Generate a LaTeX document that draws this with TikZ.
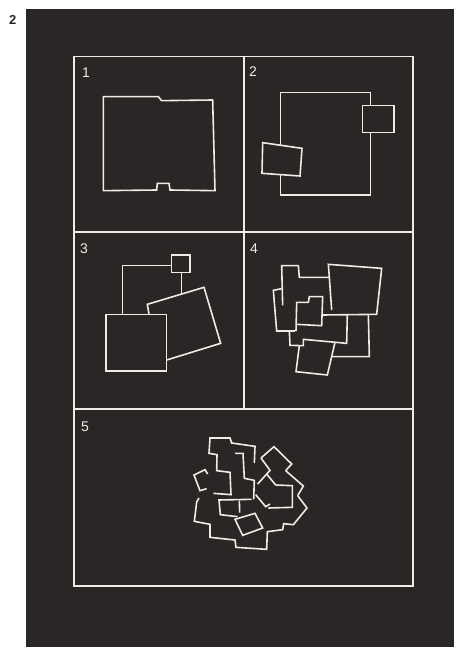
\documentclass[tikz,border=0pt]{standalone}
\usepackage{fontspec}
\setmainfont{Liberation Sans}
\definecolor{bgdark}{RGB}{42,38,38}
\definecolor{fg}{RGB}{238,236,230}
\begin{document}
\begin{tikzpicture}[x=1pt,y=-1pt,
  ln/.style={draw=fg,line width=1.6pt,line join=miter},
  lbl/.style={text=fg,font=\fontsize{14}{14}\selectfont,anchor=base west,inner sep=0pt}]
\useasboundingbox (0,0) rectangle (454,647);
\fill[white] (0,0) rectangle (454,647);
\fill[bgdark] (25.5,9.5) rectangle (454,647);
\node[anchor=base west,inner sep=0pt,font=\fontsize{13}{13}\selectfont\bfseries,text=black!85] (fignum) at (9,25) {2};
% frame
\draw[ln] (74,56.5) rectangle (413,586);
\draw[ln] (244,56.5) -- (244,409);
\draw[ln] (74,232) -- (413,232);
\draw[ln] (74,409) -- (413,409);
% labels
\node[lbl] (l1) at (82,77.5) {1};
\node[lbl] (l2) at (249,77) {2};
\node[lbl] (l3) at (80,253) {3};
\node[lbl] (l4) at (250,253) {4};
\node[lbl] (l5) at (81,431) {5};
% panel 1
\begin{scope}[shift={(70,50)},scale=1/3]
\draw[ln] (100,140) -- (265,140) -- (275,152) -- (428,150) -- (435,422) -- (300,420) -- (297,400) -- (262,400) -- (260,420) -- (100,422) -- cycle;
\end{scope}
% panel 2
\begin{scope}[shift={(240,50)},scale=1/3]
\draw[ln] (122,285) -- (122,128) -- (392,128) -- (392,166);
\draw[ln] (392,248) -- (392,435) -- (122,435) -- (122,372);
\draw[ln] (368,166) -- (462,166) -- (462,248) -- (368,248) -- cycle;
\draw[ln] (68,278) -- (186,295) -- (180,378) -- (66,370) -- cycle;
\end{scope}
% panel 3
\begin{scope}[shift={(70,225)},scale=1/3]
\draw[ln] (305,90) -- (360,90) -- (360,142) -- (305,142) -- cycle;
\draw[ln] (305,122) -- (158,122) -- (158,268);
\draw[ln] (335,142) -- (335,207);
\draw[ln] (237,268) -- (232,238) -- (402,187) -- (452,355) -- (290,405);
\draw[ln] (108,268) -- (290,268) -- (290,438) -- (108,438) -- cycle;
\end{scope}
% panel 4
\begin{scope}[shift={(240,225)},scale=1/3]
\draw[ln] (128,241) -- (125,122) -- (175,122) -- (178,157) -- (268,157) -- (275,255);
\draw[ln] (268,157) -- (265,118) -- (425,130) -- (410,268) -- (248,270);
\draw[ln] (125,191) -- (100,196) -- (110,318) -- (165,318);
\draw[ln] (168,318) -- (170,232) -- (205,232) -- (208,215) -- (248,215) -- (245,302) -- (169,298);
\draw[ln] (148,318) -- (150,361) -- (190,362) -- (190,343) -- (320,355) -- (322,267);
\draw[ln] (178,362) -- (168,440) -- (262,450) -- (285,352);
\draw[ln] (385,268) -- (388,395) -- (275,395);
\end{scope}
% panel 5
\begin{scope}[shift={(185,428)},scale=1/3]
\draw[ln] (208,105) -- (210,55) -- (140,45) -- (135,30) -- (75,30) -- (72,76) -- (96,80) -- (95,128) -- (135,133) -- (138,200) -- (85,196);
\draw[ln] (65,182) -- (45,188) -- (27,141) -- (60,125) -- (68,138);
\draw[ln] (42,210) -- (35,222) -- (28,280) -- (75,289) -- (75,328) -- (150,336) -- (153,358) -- (245,364) -- (247,311) -- (293,305) -- (296,287) -- (325,290) -- (366,240) -- (338,203);
\draw[ln] (200,214) -- (102,216) -- (106,260) -- (158,266);
\draw[ln] (163,218) -- (164,254);
\draw[ln] (150,76) -- (174,76) -- (178,151) -- (208,157) -- (206,214);
\draw[ln] (150,274) -- (210,256) -- (233,300) -- (173,322) -- cycle;
\draw[ln] (228,90) -- (267,56) -- (320,108) -- (302,128);
\draw[ln] (228,90) -- (255,127) -- (218,168);
\draw[ln] (302,128) -- (355,174) -- (338,203);
\draw[ln] (272,171) -- (322,173) -- (322,238) -- (250,240);
\draw[ln] (245,138) -- (272,171);
\draw[ln] (212,200) -- (242,236) -- (255,228);
\end{scope}
\end{tikzpicture}
\end{document}
